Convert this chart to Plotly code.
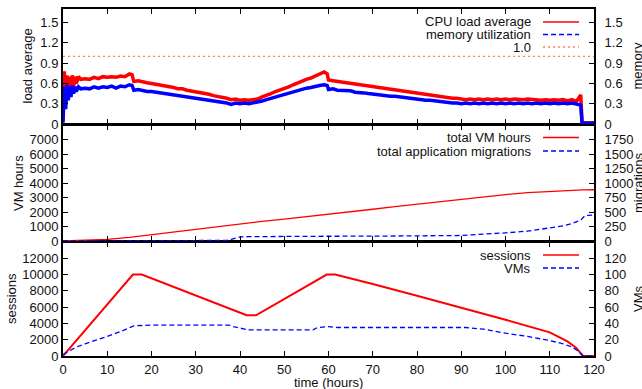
import plotly.graph_objects as go

# ---------------- data ----------------
# Panel 1: load average / memory utilization
load_t = [0, 0.3, 0.6, 0.9, 1.2, 1.5, 1.8, 2.1, 2.4, 2.7, 3.0, 3.5,
          4, 5, 6, 7, 8, 9, 10, 11, 12, 13, 14, 15, 15.6, 16, 17, 18, 19, 20,
          21, 22, 23, 24, 25, 26, 27, 28, 29, 30, 31, 32, 33, 34, 35, 36, 37, 38, 39, 40,
          41, 42, 43, 44, 45, 46, 47, 48, 49, 50, 51, 52, 53, 54, 55, 56, 57, 58, 59, 59.7, 60,
          61, 62, 63, 64, 65, 66, 67, 68, 69, 70, 71, 72, 73, 74, 75, 76, 77, 78, 79, 80,
          81, 82, 83, 84, 85, 86, 87, 88, 89, 90, 91, 92, 93, 94, 95, 96, 97, 98, 99, 100,
          101, 102, 103, 104, 105, 106, 107, 108, 109, 110, 111, 112, 113, 114, 115, 116, 117,
          117.3, 118, 119, 120]
cpu_load = [0.05, 0.78, 0.30, 0.72, 0.40, 0.70, 0.48, 0.72, 0.55, 0.70, 0.60, 0.70,
            0.66, 0.67, 0.66, 0.69, 0.67, 0.70, 0.69, 0.70, 0.69, 0.71, 0.70, 0.74, 0.73, 0.63, 0.64, 0.62, 0.61, 0.60,
            0.59, 0.57, 0.57, 0.55, 0.54, 0.52, 0.52, 0.50, 0.49, 0.47, 0.47, 0.45, 0.44, 0.42, 0.41, 0.39, 0.38, 0.36, 0.37, 0.35,
            0.36, 0.35, 0.36, 0.37, 0.40, 0.42, 0.45, 0.48, 0.50, 0.53, 0.55, 0.58, 0.61, 0.63, 0.66, 0.68, 0.71, 0.74, 0.77, 0.74, 0.65,
            0.64, 0.63, 0.62, 0.61, 0.60, 0.59, 0.58, 0.57, 0.56, 0.55, 0.54, 0.53, 0.52, 0.51, 0.50, 0.49, 0.48, 0.47, 0.46, 0.45,
            0.44, 0.43, 0.42, 0.41, 0.40, 0.40, 0.39, 0.38, 0.38, 0.37, 0.36, 0.37, 0.36, 0.37, 0.36, 0.37, 0.36, 0.37, 0.36, 0.37,
            0.36, 0.37, 0.36, 0.36, 0.37, 0.36, 0.36, 0.35, 0.36, 0.35, 0.36, 0.35, 0.36, 0.34, 0.36, 0.33, 0.43,
            0.02, 0.02, 0.02, 0.02]
mem_util = [0.02, 0.55, 0.22, 0.58, 0.35, 0.55, 0.40, 0.57, 0.45, 0.55, 0.48, 0.55,
            0.52, 0.53, 0.52, 0.55, 0.53, 0.55, 0.54, 0.56, 0.53, 0.56, 0.55, 0.58, 0.57, 0.50, 0.51, 0.49, 0.48, 0.48,
            0.47, 0.46, 0.45, 0.45, 0.43, 0.43, 0.41, 0.41, 0.40, 0.39, 0.38, 0.37, 0.36, 0.35, 0.34, 0.33, 0.31, 0.29, 0.31, 0.30,
            0.31, 0.30, 0.31, 0.32, 0.34, 0.36, 0.38, 0.40, 0.42, 0.44, 0.46, 0.47, 0.49, 0.51, 0.53, 0.54, 0.56, 0.57, 0.58, 0.57, 0.51,
            0.52, 0.50, 0.50, 0.49, 0.49, 0.47, 0.47, 0.46, 0.45, 0.44, 0.44, 0.43, 0.42, 0.41, 0.41, 0.40, 0.39, 0.38, 0.38, 0.37,
            0.36, 0.35, 0.35, 0.34, 0.33, 0.32, 0.32, 0.31, 0.31, 0.30, 0.31, 0.30, 0.31, 0.30, 0.31, 0.30, 0.31, 0.30, 0.31, 0.30,
            0.31, 0.30, 0.31, 0.30, 0.31, 0.30, 0.31, 0.30, 0.31, 0.30, 0.31, 0.30, 0.31, 0.30, 0.31, 0.29, 0.28,
            0.01, 0.01, 0.01, 0.01]
ref_t = [0, 120]
ref_level = [1.0, 1.0]
load_ticks = [0, 0.3, 0.6, 0.9, 1.2, 1.5]
load_ticktext = ["0", "0.3", "0.6", "0.9", "1.2", "1.5"]

# Panel 2: total VM hours / total application migrations
vmh_t = [0, 5, 10, 15, 20, 25, 30, 35, 40, 45, 50, 55, 60, 65, 70, 75, 80, 85, 90, 95,
         100, 105, 110, 115, 117.5, 120]
vm_hours = [0, 35, 110, 250, 440, 630, 820, 1010, 1190, 1350, 1510, 1670, 1830, 2010, 2190,
            2370, 2540, 2710, 2880, 3050, 3200, 3330, 3430, 3500, 3530, 3535]
mig_t = [0, 36, 37, 38, 39, 40, 42, 45, 50, 60, 70, 80, 88, 90, 92, 95, 100, 105, 108,
         110, 113, 115, 117, 118, 120]
migrations = [0, 0, 10, 30, 55, 70, 75, 78, 80, 82, 83, 85, 87, 95, 105, 115, 140, 170, 200,
              225, 260, 300, 360, 440, 450]
vmh_ticks = [0, 1000, 2000, 3000, 4000, 5000, 6000, 7000]
mig_ticks = [0, 250, 500, 750, 1000, 1250, 1500, 1750]

# Panel 3: sessions / VMs
sess_t = [0, 15.8, 17.8, 41.5, 43.6, 59.6, 61.5, 70, 80, 90, 100, 110, 114, 116, 117, 117.5, 120]
sessions = [0, 10000, 10000, 5000, 5000, 10000, 10000, 8850, 7400, 5950, 4450, 2900, 1800,
            1000, 400, 0, 0]
vms_t = [0, 1, 3, 5, 8, 10, 13, 15, 16, 20, 30, 37.5, 38.5, 41, 42, 50, 56.5, 57.5, 60, 62,
         70, 80, 91, 95, 100, 105, 110, 113, 115, 116.5, 117.5, 120]
vms = [2, 5, 11, 15, 20, 24, 30, 35, 37, 38, 38, 38, 36, 33, 32, 32, 32, 35, 36, 35,
       35, 35, 35, 33, 28, 24, 19, 15, 11, 6, 0, 0]
sess_ticks = [0, 2000, 4000, 6000, 8000, 10000, 12000]
vms_ticks = [0, 20, 40, 60, 80, 100, 120]

x_ticks = [0, 10, 20, 30, 40, 50, 60, 70, 80, 90, 100, 110, 120]

# ---------------- figure ----------------
RED = "#ff0000"
BLUE = "#0000ff"
CORAL = "#ff8060"
FONT = dict(family="Liberation Sans, Arial, sans-serif", size=13, color="#111111")

fig = go.Figure()

# panel 1
fig.add_trace(go.Scatter(x=load_t, y=cpu_load, xaxis="x3", yaxis="y", mode="lines",
                         line=dict(color=RED, width=3.5), name="CPU load average"))
fig.add_trace(go.Scatter(x=load_t, y=mem_util, xaxis="x3", yaxis="y2", mode="lines",
                         line=dict(color=BLUE, width=3.5), name="memory utilization"))
fig.add_trace(go.Scatter(x=ref_t, y=ref_level, xaxis="x3", yaxis="y", mode="lines",
                         line=dict(color=CORAL, width=1.2, dash="2px,3px"), name="1.0"))
# panel 2
fig.add_trace(go.Scatter(x=vmh_t, y=vm_hours, xaxis="x2", yaxis="y3", mode="lines",
                         line=dict(color=RED, width=1.3), name="total VM hours"))
fig.add_trace(go.Scatter(x=mig_t, y=migrations, xaxis="x2", yaxis="y4", mode="lines",
                         line=dict(color=BLUE, width=1.3, dash="5px,3px"),
                         name="total application migrations"))
# panel 3
fig.add_trace(go.Scatter(x=sess_t, y=sessions, xaxis="x", yaxis="y5", mode="lines",
                         line=dict(color=RED, width=2), name="sessions"))
fig.add_trace(go.Scatter(x=vms_t, y=vms, xaxis="x", yaxis="y6", mode="lines",
                         line=dict(color=BLUE, width=1.3, dash="5px,3px"), name="VMs"))

PLOT_T, PLOT_B = 9, 356
H = PLOT_B - PLOT_T
L, R = 63, 594
W = R - L


def py(p):
    return (PLOT_B - p) / H


def px(p):
    return (p - L) / W


dom1 = [py(124), 1.0]
dom2 = [py(241), py(125)]
dom3 = [0.0, py(242)]

common_x = dict(range=[0, 120], tickvals=x_ticks, ticks="inside", ticklen=5,
                tickwidth=1, tickcolor="black", showline=True, linewidth=2,
                linecolor="black", mirror="ticks", showgrid=False, zeroline=False,
                tickfont=FONT, automargin=False)
common_y = dict(ticks="inside", ticklen=5, tickwidth=1, tickcolor="black",
                showline=True, linewidth=2, linecolor="black", showgrid=False,
                zeroline=False, tickfont=FONT, automargin=False)


def labels(vals):
    return [str(v) for v in vals]


fig.update_layout(
    width=642, height=389,
    margin=dict(l=L, r=642 - R, t=PLOT_T, b=389 - PLOT_B, autoexpand=False),
    paper_bgcolor="white", plot_bgcolor="white",
    showlegend=False,
    font=FONT,
    xaxis=dict(common_x, anchor="y5", showticklabels=True),
    xaxis2=dict(common_x, anchor="y3", showticklabels=False),
    xaxis3=dict(common_x, anchor="y", showticklabels=False),
    yaxis=dict(common_y, domain=dom1, anchor="x3", range=[0, 1.7],
               tickvals=load_ticks, ticktext=load_ticktext),
    yaxis2=dict(common_y, domain=dom1, anchor="x3", overlaying="y", side="right",
                range=[0, 1.7], tickvals=load_ticks, ticktext=load_ticktext,
                ticklabelstandoff=6),
    yaxis3=dict(common_y, domain=dom2, anchor="x2", range=[0, 8000],
                tickvals=vmh_ticks, ticktext=labels(vmh_ticks)),
    yaxis4=dict(common_y, domain=dom2, anchor="x2", overlaying="y3", side="right",
                range=[0, 2000], tickvals=mig_ticks, ticktext=labels(mig_ticks),
                ticklabelstandoff=6),
    yaxis5=dict(common_y, domain=dom3, anchor="x", range=[0, 14000],
                tickvals=sess_ticks, ticktext=labels(sess_ticks)),
    yaxis6=dict(common_y, domain=dom3, anchor="x", overlaying="y5", side="right",
                range=[0, 140], tickvals=vms_ticks, ticktext=labels(vms_ticks),
                ticklabelstandoff=6),
)

ann = []
shapes = []


def legend_row(text, ypix, color, dash, width=1.3):
    ann.append(dict(text=text, x=px(533), y=py(ypix), xref="paper", yref="paper",
                    xanchor="right", yanchor="middle", showarrow=False, font=FONT))
    shapes.append(dict(type="line", xref="paper", yref="paper", x0=px(543), x1=px(579),
                       y0=py(ypix), y1=py(ypix), line=dict(color=color, width=width, dash=dash)))


legend_row("CPU load average", 22, RED, "solid")
legend_row("memory utilization", 34.5, BLUE, "5px,3px")
legend_row("1.0", 47, CORAL, "2px,3px")
legend_row("total VM hours", 137.5, RED, "solid")
legend_row("total application migrations", 151, BLUE, "5px,3px")
legend_row("sessions", 255, RED, "solid")
legend_row("VMs", 268, BLUE, "5px,3px")


def side_title(text, xpix, ypix):
    ann.append(dict(text=text, x=px(xpix), y=py(ypix), xref="paper", yref="paper",
                    xanchor="center", yanchor="middle", textangle=-90, showarrow=False,
                    font=FONT))


side_title("load average", 27, 66.5)
side_title("VM hours", 18, 183)
side_title("sessions", 11, 299)
side_title("memory", 637, 66.5)
side_title("migrations", 638, 183)
side_title("VMs", 638, 299)

ann.append(dict(text="time (hours)", x=px(328), y=py(382), xref="paper", yref="paper",
                xanchor="center", yanchor="middle", showarrow=False, font=FONT))

fig.update_layout(annotations=ann, shapes=shapes)
fig.write_html("out.html", config={"displayModeBar": False},
               post_script="document.body.style.margin='0px';document.body.style.padding='0px';")
